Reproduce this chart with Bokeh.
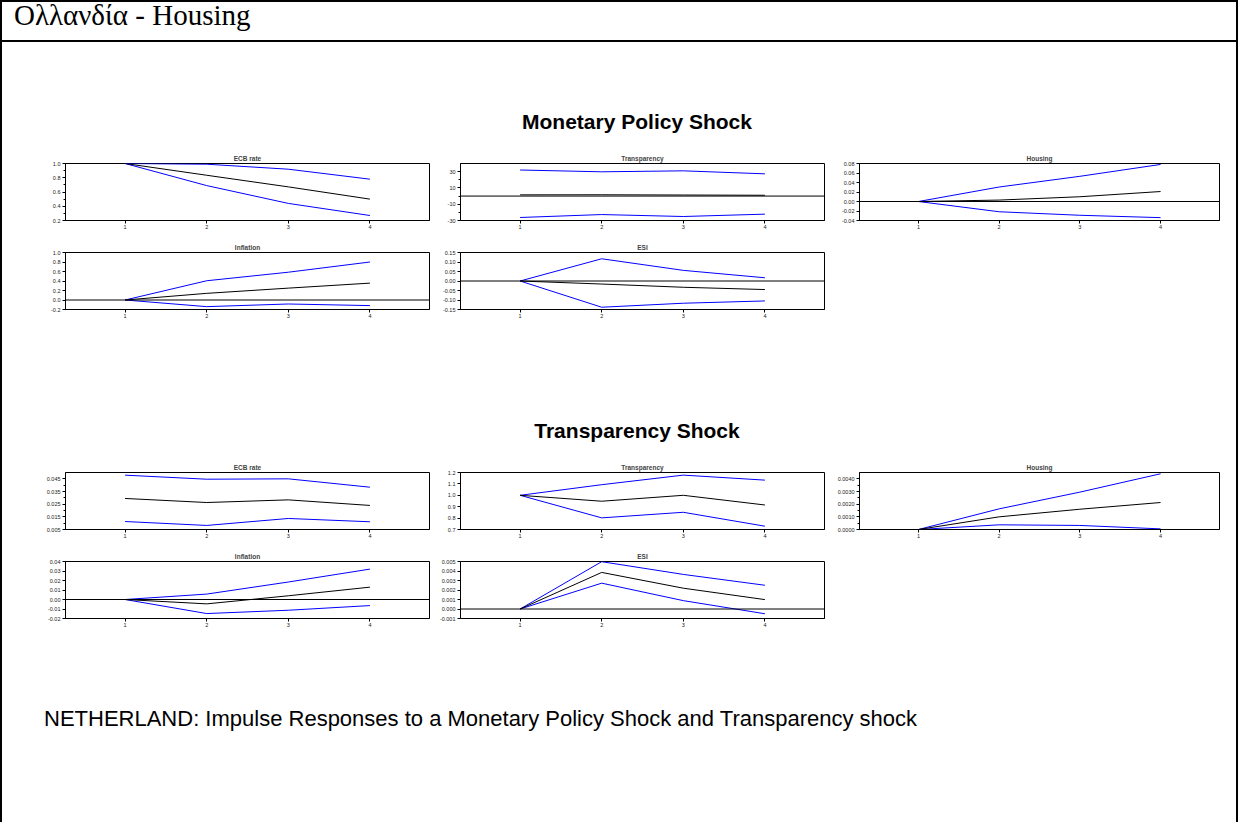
from bokeh.plotting import figure
from bokeh.layouts import row, column
from bokeh.models import Div, Spacer, Span, FixedTicker, PrintfTickFormatter
from bokeh.embed import file_html
from bokeh.resources import INLINE

# ---------------- data ----------------
periods = [1, 2, 3, 4]
period_labels = ["1", "2", "3", "4"]

page_title = "Ολλανδία - Housing"
section_titles = ["Monetary Policy Shock", "Transparency Shock"]
caption = "NETHERLAND: Impulse Responses to a Monetary Policy Shock and Transparency shock"
variables = ["ECB rate", "Transparency", "Housing", "Inflation", "ESI"]

# Monetary policy shock
mp_ecb_resp = [1.0, 0.835, 0.672, 0.50]
mp_ecb_upper = [1.0, 0.99, 0.92, 0.78]
mp_ecb_lower = [1.0, 0.69, 0.44, 0.27]

mp_transp_resp = [1.5, 1.6, 1.3, 1.0]
mp_transp_upper = [32.0, 29.8, 31.0, 27.3]
mp_transp_lower = [-26.3, -22.7, -25.1, -22.2]

mp_housing_resp = [0.0, 0.003, 0.010, 0.021]
mp_housing_upper = [0.0, 0.0305, 0.053, 0.078]
mp_housing_lower = [0.0, -0.0216, -0.029, -0.034]

mp_infl_resp = [0.0, 0.14, 0.25, 0.355]
mp_infl_upper = [0.0, 0.405, 0.585, 0.80]
mp_infl_lower = [0.0, -0.14, -0.084, -0.118]

mp_esi_resp = [0.0, -0.016, -0.033, -0.045]
mp_esi_upper = [0.0, 0.117, 0.056, 0.017]
mp_esi_lower = [0.0, -0.138, -0.117, -0.105]

# Transparency shock
ts_ecb_resp = [0.0295, 0.0263, 0.0284, 0.024]
ts_ecb_upper = [0.0479, 0.0447, 0.045, 0.0384]
ts_ecb_lower = [0.0113, 0.0082, 0.0137, 0.0111]

ts_transp_resp = [1.0, 0.948, 1.0, 0.915]
ts_transp_upper = [1.0, 1.093, 1.177, 1.133]
ts_transp_lower = [1.0, 0.802, 0.851, 0.729]

ts_housing_resp = [0.0, 0.0010, 0.0016, 0.00213]
ts_housing_upper = [0.0, 0.00163, 0.00295, 0.0044]
ts_housing_lower = [0.0, 0.00037, 0.00032, 0.00005]

ts_infl_resp = [0.0, -0.0046, 0.0039, 0.013]
ts_infl_upper = [0.0, 0.0057, 0.0184, 0.032]
ts_infl_lower = [0.0, -0.0148, -0.0113, -0.0064]

ts_esi_resp = [0.0, 0.00385, 0.00219, 0.00099]
ts_esi_upper = [0.0, 0.00498, 0.00364, 0.0025]
ts_esi_lower = [0.0, 0.00272, 0.00088, -0.0005]

# y axes: range, major ticks, minor ticks, label format
mp_ecb_axis = ((0.2, 1.0), [0.2, 0.4, 0.6, 0.8, 1.0], [0.3, 0.5, 0.7, 0.9], "%.1f")
mp_transp_axis = ((-30, 40), [-30, -10, 10, 30], [-20, 0, 20], "%.0f")
mp_housing_axis = ((-0.04, 0.08), [-0.04, -0.02, 0.0, 0.02, 0.04, 0.06, 0.08], [], "%.2f")
mp_infl_axis = ((-0.2, 1.0), [-0.2, 0.0, 0.2, 0.4, 0.6, 0.8, 1.0], [], "%.1f")
mp_esi_axis = ((-0.15, 0.15), [-0.15, -0.10, -0.05, 0.0, 0.05, 0.10, 0.15], [], "%.2f")

ts_ecb_axis = ((0.005, 0.05), [0.005, 0.015, 0.025, 0.035, 0.045], [0.01, 0.02, 0.03, 0.04], "%.3f")
ts_transp_axis = ((0.7, 1.2), [0.7, 0.8, 0.9, 1.0, 1.1, 1.2], [], "%.1f")
ts_housing_axis = ((0.0, 0.0045), [0.0, 0.001, 0.002, 0.003, 0.004], [0.0005, 0.0015, 0.0025, 0.0035], "%.4f")
ts_infl_axis = ((-0.02, 0.04), [-0.02, -0.01, 0.0, 0.01, 0.02, 0.03, 0.04], [], "%.2f")
ts_esi_axis = ((-0.001, 0.005), [-0.001, 0.0, 0.001, 0.002, 0.003, 0.004, 0.005], [], "%.3f")

FONT = "Liberation Sans"


def panel(title, frame_w, axis, resp, upper, lower):
    (lo, hi), major, minor, fmt = axis
    p = figure(frame_width=frame_w, frame_height=57, x_range=(0.27, 4.73), y_range=(lo, hi),
               toolbar_location=None, output_backend="svg", title=title,
               min_border_left=28, min_border_right=2, min_border_top=18, min_border_bottom=14)
    p.title.align = "center"
    p.title.text_font = FONT
    p.title.text_font_size = "6.5px"
    p.title.text_font_style = "bold"
    p.title.standoff = 3
    p.outline_line_color = "black"
    p.outline_line_width = 1
    p.xgrid.visible = False
    p.ygrid.visible = False
    p.background_fill_color = "white"
    p.border_fill_color = "white"

    p.xaxis.ticker = FixedTicker(ticks=periods)
    p.xaxis.major_label_overrides = {v: s for v, s in zip(periods, period_labels)}
    p.yaxis.ticker = FixedTicker(ticks=major, minor_ticks=minor)
    p.yaxis.formatter = PrintfTickFormatter(format=fmt)
    for ax in (p.xaxis[0], p.yaxis[0]):
        ax.axis_line_color = "black"
        ax.major_tick_line_color = "black"
        ax.minor_tick_line_color = "black"
        ax.major_tick_in = 0
        ax.major_tick_out = 3
        ax.minor_tick_in = 0
        ax.minor_tick_out = 2
        ax.major_label_text_font = FONT
        ax.major_label_text_font_size = "5.5px"
        ax.major_label_text_color = "#222222"
    p.xaxis.major_label_standoff = 1
    p.yaxis.major_label_standoff = 2

    if lo < 0 < hi:
        p.add_layout(Span(location=0, dimension="width", line_color="black", line_width=1))
    p.line(periods, upper, line_color="#0000ff", line_width=1)
    p.line(periods, lower, line_color="#0000ff", line_width=1)
    p.line(periods, resp, line_color="black", line_width=1)
    return p


def black(w, h):
    return Div(width=w, height=h, margin=0, styles={"background-color": "black"})


def gap(w, h):
    return Spacer(width=w, height=h, margin=0)


def panel_row(panels):
    kids = [gap(35, 89), panels[0], gap(1, 89), panels[1]]
    if len(panels) > 2:
        kids += [gap(5, 89), panels[2]]
    return row(kids, spacing=0, margin=0)


def section_div(text):
    return Div(text='<div style="padding-left:36px">' + text + '</div>', width=1234, height=28, margin=0,
               styles={"font-family": FONT, "font-size": "21px", "font-weight": "bold",
                       "line-height": "28px", "text-align": "center", "color": "black"})


W1, W2, W3 = 364, 364, 360

mp_top = panel_row([
    panel(variables[0], W1, mp_ecb_axis, mp_ecb_resp, mp_ecb_upper, mp_ecb_lower),
    panel(variables[1], W2, mp_transp_axis, mp_transp_resp, mp_transp_upper, mp_transp_lower),
    panel(variables[2], W3, mp_housing_axis, mp_housing_resp, mp_housing_upper, mp_housing_lower),
])
mp_bot = panel_row([
    panel(variables[3], W1, mp_infl_axis, mp_infl_resp, mp_infl_upper, mp_infl_lower),
    panel(variables[4], W2, mp_esi_axis, mp_esi_resp, mp_esi_upper, mp_esi_lower),
])
ts_top = panel_row([
    panel(variables[0], W1, ts_ecb_axis, ts_ecb_resp, ts_ecb_upper, ts_ecb_lower),
    panel(variables[1], W2, ts_transp_axis, ts_transp_resp, ts_transp_upper, ts_transp_lower),
    panel(variables[2], W3, ts_housing_axis, ts_housing_resp, ts_housing_upper, ts_housing_lower),
])
ts_bot = panel_row([
    panel(variables[3], W1, ts_infl_axis, ts_infl_resp, ts_infl_upper, ts_infl_lower),
    panel(variables[4], W2, ts_esi_axis, ts_esi_resp, ts_esi_upper, ts_esi_lower),
])

header = Div(text='<div style="padding-left:12px">' + page_title + '</div>', width=1234, height=38,
             margin=0,
             styles={"font-family": "Liberation Serif", "font-size": "29px", "line-height": "26px",
                     "color": "black"})
caption_div = Div(text='<div style="padding-left:42px">' + caption + '</div>', width=1234, height=28,
                  margin=0,
                  styles={"font-family": FONT, "font-size": "22px", "line-height": "28px", "color": "black"})

body = column([
    gap(1234, 66),
    section_div(section_titles[0]),
    gap(1234, 9),
    mp_top,
    mp_bot,
    gap(1234, 94),
    section_div(section_titles[1]),
    gap(1234, 9),
    ts_top,
    ts_bot,
    gap(1234, 73),
    caption_div,
    gap(1234, 89),
], spacing=0, margin=0)

BODY_H = 66 + 28 + 9 + 89 * 2 + 94 + 28 + 9 + 89 * 2 + 73 + 28 + 89

root = column([
    black(1238, 2),
    row([black(2, 38), header, black(2, 38)], spacing=0, margin=0),
    black(1238, 2),
    row([black(2, BODY_H), body, black(2, BODY_H)], spacing=0, margin=0),
], spacing=0, margin=0)

with open("out.html", "w", encoding="utf-8") as f:
    f.write(file_html(root, INLINE, title="Ολλανδία - Housing"))
